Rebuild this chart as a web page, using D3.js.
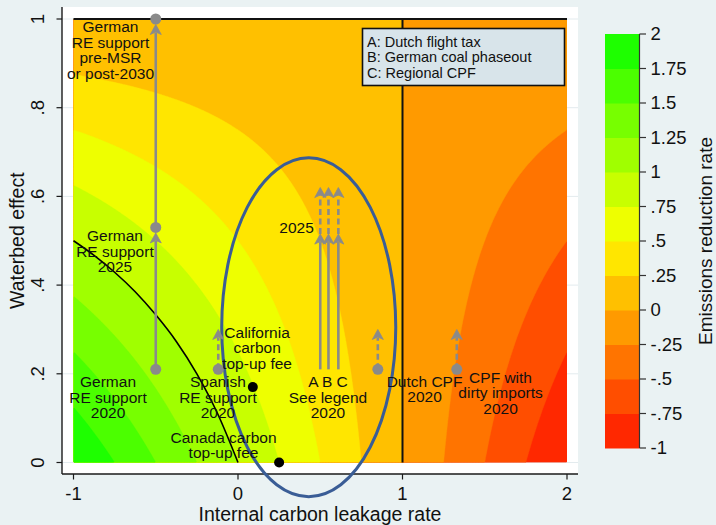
<!DOCTYPE html>
<html>
<head>
<meta charset="utf-8">
<script src="https://cdn.jsdelivr.net/npm/d3@7"></script>
<style>
  html, body { margin: 0; padding: 0; background: #EAF2F3; }
  svg { display: block; font-family: "Liberation Sans", Arial, sans-serif; }
</style>
</head>
<body>
<svg id="chart" width="716" height="525"></svg>
<script>
// ---- Emissions reduction rate on a (leakage, waterbed) grid ----
const leakageGrid = [-1, -0.5, 0, 0.5, 1, 1.5, 2];
const waterbedGrid = [0, 0.25, 0.5, 0.75, 1];
const reductionGrid = [
  [2, 1.5, 1, 0.5, 0, -0.5, -1],
  [1.5, 1.125, 0.75, 0.375, 0, -0.375, -0.75],
  [1, 0.75, 0.5, 0.25, 0, -0.25, -0.5],
  [0.5, 0.375, 0.25, 0.125, 0, -0.125, -0.25],
  [0, 0, 0, 0, 0, 0, 0]
];

// Contour levels (lower bound of each band) and band colours
const reductionLevels = [-1, -0.75, -0.5, -0.25, 0, 0.25, 0.5, 0.75, 1, 1.25, 1.5, 1.75];
const levelColors = ["#FF2800", "#FF4E00", "#FF7400", "#FF9A00", "#FFC000", "#FFE600",
                     "#EEFF00", "#C8FF00", "#A0FF00", "#77FF00", "#4BFF00", "#1EFF00"];

// Tick values and labels
const reductionTicks = [-1, -0.75, -0.5, -0.25, 0, 0.25, 0.5, 0.75, 1, 1.25, 1.5, 1.75, 2];
const reductionTickLabels = ["-1", "-.75", "-.5", "-.25", "0", ".25", ".5", ".75", "1", "1.25", "1.5", "1.75", "2"];
const leakageTicks = [-1, 0, 1, 2];
const leakageTickLabels = ["-1", "0", "1", "2"];
const waterbedTicks = [0, 0.2, 0.4, 0.6, 0.8, 1];
const waterbedTickLabels = ["0", ".2", ".4", ".6", ".8", "1"];

// Boundary where the reduction rate equals 1
const unitLeakage = [-1, -0.875, -0.75, -0.625, -0.5, -0.375, -0.25, -0.125, 0];
const unitWaterbed = [0.5, 0.467, 0.429, 0.385, 0.333, 0.273, 0.2, 0.111, 0];

// Policies shown as grey markers
const policyLeakage = [-0.5, -0.5, -0.5, -0.12, 0.85, 1.33];
const policyWaterbed = [0.21, 0.53, 1.0, 0.21, 0.21, 0.21];

// Top-up fees shown as black markers
const feeLeakage = [0.09, 0.25];
const feeWaterbed = [0.17, 0];

// Shifts of the waterbed effect over time (vertical arrows)
const shiftLeakage = [-0.5, -0.5, 0.50, 0.55, 0.61, 0.50, 0.55, 0.61, -0.12, 0.85, 1.33];
const shiftFrom    = [0.21, 0.53, 0.21, 0.21, 0.21, 0.515, 0.515, 0.515, 0.21, 0.21, 0.21];
const shiftTo      = [0.53, 1.0, 0.515, 0.515, 0.515, 0.62, 0.62, 0.62, 0.30, 0.30, 0.30];
const shiftProjected = [false, false, false, false, false, true, true, true, true, true, true];

const legendLines = ["A: Dutch flight tax", "B: German coal phaseout", "C: Regional CPF"];

// ---- Layout ----
const svg = d3.select("#chart");
const W = 716, H = 525;
const plotBox = { left: 62, right: 578, top: 7, bottom: 474 };
const x = d3.scaleLinear().domain([-1, 2]).range([73.5, 567]);
const y = d3.scaleLinear().domain([0, 1]).range([462.5, 19]);
const gray = "#8A8A8A";
const annFont = 15.5, tickFont = 18.5, titleFont = 19.5;

svg.append("rect").attr("width", W).attr("height", H).attr("fill", "#EAF2F3");
svg.append("rect")
  .attr("x", plotBox.left).attr("y", plotBox.top)
  .attr("width", plotBox.right - plotBox.left).attr("height", plotBox.bottom - plotBox.top)
  .attr("fill", "#fff");

// horizontal grid lines
svg.append("g").selectAll("line").data(waterbedTicks).join("line")
  .attr("x1", plotBox.left).attr("x2", plotBox.right)
  .attr("y1", d => y(d)).attr("y2", d => y(d))
  .attr("stroke", "#E3EBEE").attr("stroke-width", 1);

// ---- Filled contours ----
function reductionAt(lx, wb) {
  const i = Math.min(leakageGrid.length - 2, Math.max(0, d3.bisectRight(leakageGrid, lx) - 1));
  const j = Math.min(waterbedGrid.length - 2, Math.max(0, d3.bisectRight(waterbedGrid, wb) - 1));
  const tx = (lx - leakageGrid[i]) / (leakageGrid[i + 1] - leakageGrid[i]);
  const ty = (wb - waterbedGrid[j]) / (waterbedGrid[j + 1] - waterbedGrid[j]);
  const z00 = reductionGrid[j][i], z10 = reductionGrid[j][i + 1];
  const z01 = reductionGrid[j + 1][i], z11 = reductionGrid[j + 1][i + 1];
  return (1 - ty) * ((1 - tx) * z00 + tx * z10) + ty * ((1 - tx) * z01 + tx * z11);
}

const nx = 330, ny = 300;
const [lx0, lx1] = x.domain(), [wb0, wb1] = y.domain();
const field = new Float64Array(nx * ny);
for (let j = 0; j < ny; j++) {
  for (let i = 0; i < nx; i++) {
    field[j * nx + i] = reductionAt(lx0 + (i + 0.5) / nx * (lx1 - lx0), wb0 + (j + 0.5) / ny * (wb1 - wb0));
  }
}
const bands = d3.contours().size([nx, ny]).thresholds(reductionLevels)(field);
const gridToScreen = d3.geoTransform({
  point: function (gx, gy) {
    this.stream.point(x(lx0 + gx / nx * (lx1 - lx0)), y(wb0 + gy / ny * (wb1 - wb0)));
  }
});
const contourPath = d3.geoPath(gridToScreen);

svg.append("clipPath").attr("id", "field-clip").append("rect")
  .attr("x", x(lx0)).attr("y", y(wb1))
  .attr("width", x(lx1) - x(lx0)).attr("height", y(wb0) - y(wb1));

svg.append("g").attr("clip-path", "url(#field-clip)")
  .selectAll("path").data(bands).join("path")
  .attr("d", contourPath)
  .attr("fill", (d, k) => levelColors[k])
  .attr("stroke", (d, k) => levelColors[k])
  .attr("stroke-width", 0.4);

// zero-reduction lines: full waterbed and unit leakage
svg.append("line")
  .attr("x1", x(lx0)).attr("x2", x(lx1)).attr("y1", y(1)).attr("y2", y(1))
  .attr("stroke", "#111").attr("stroke-width", 2);
svg.append("line")
  .attr("x1", x(1)).attr("x2", x(1)).attr("y1", y(1)).attr("y2", y(0))
  .attr("stroke", "#111").attr("stroke-width", 2);

// unit-reduction curve
svg.append("path")
  .datum(unitLeakage.map((v, k) => [v, unitWaterbed[k]]))
  .attr("d", d3.line().x(d => x(d[0])).y(d => y(d[1])).curve(d3.curveMonotoneX))
  .attr("fill", "none").attr("stroke", "#000").attr("stroke-width", 1.6);

// ---- Axes ----
const axisColor = "#1a1a1a";
svg.append("line")
  .attr("x1", plotBox.left).attr("x2", plotBox.left).attr("y1", plotBox.top).attr("y2", plotBox.bottom)
  .attr("stroke", axisColor).attr("stroke-width", 1.4);
svg.append("line")
  .attr("x1", plotBox.left).attr("x2", plotBox.right).attr("y1", plotBox.bottom).attr("y2", plotBox.bottom)
  .attr("stroke", axisColor).attr("stroke-width", 1.4);

const yTicks = svg.append("g");
yTicks.selectAll("line").data(waterbedTicks).join("line")
  .attr("x1", plotBox.left - 5.5).attr("x2", plotBox.left)
  .attr("y1", d => y(d)).attr("y2", d => y(d))
  .attr("stroke", axisColor).attr("stroke-width", 1.2);
yTicks.selectAll("text").data(waterbedTicks).join("text")
  .attr("transform", d => `translate(38,${y(d)}) rotate(-90)`)
  .attr("text-anchor", "middle").attr("dy", "0.35em")
  .attr("font-size", tickFont).attr("fill", "#111")
  .text((d, k) => waterbedTickLabels[k]);

const xTicks = svg.append("g");
xTicks.selectAll("line").data(leakageTicks).join("line")
  .attr("x1", d => x(d)).attr("x2", d => x(d))
  .attr("y1", plotBox.bottom).attr("y2", plotBox.bottom + 5.5)
  .attr("stroke", axisColor).attr("stroke-width", 1.2);
xTicks.selectAll("text").data(leakageTicks).join("text")
  .attr("x", d => x(d)).attr("y", 500)
  .attr("text-anchor", "middle").attr("font-size", tickFont).attr("fill", "#111")
  .text((d, k) => leakageTickLabels[k]);

svg.append("text")
  .attr("x", (plotBox.left + plotBox.right) / 2).attr("y", 521)
  .attr("text-anchor", "middle").attr("font-size", titleFont).attr("fill", "#111")
  .text("Internal carbon leakage rate");
svg.append("text")
  .attr("transform", `translate(17,${(y(0) + y(1)) / 2}) rotate(-90)`)
  .attr("text-anchor", "middle").attr("dy", "0.35em")
  .attr("font-size", titleFont).attr("fill", "#111")
  .text("Waterbed effect");

// ---- Highlight ellipse around the 2020 policies ----
const ellipseCenter = [0.43, 0.305], ellipseRadii = [0.529, 0.382];
svg.append("ellipse")
  .attr("cx", x(ellipseCenter[0])).attr("cy", y(ellipseCenter[1]))
  .attr("rx", x(ellipseCenter[0] + ellipseRadii[0]) - x(ellipseCenter[0]))
  .attr("ry", y(0) - y(ellipseRadii[1]))
  .attr("fill", "none").attr("stroke", "#3A5D96").attr("stroke-width", 3);

// ---- Shift arrows ----
const markerR = 5.5;
const arrowG = svg.append("g");
shiftLeakage.forEach((lv, k) => {
  const px = x(lv);
  const endsOnMarker = policyLeakage.some((pl, m) => pl === lv && policyWaterbed[m] === shiftTo[k]);
  const tipY = y(shiftTo[k]) + (endsOnMarker ? markerR : 0);
  arrowG.append("line")
    .attr("x1", px).attr("x2", px)
    .attr("y1", y(shiftFrom[k])).attr("y2", tipY + 8)
    .attr("stroke", gray).attr("stroke-width", 2.6)
    .attr("stroke-dasharray", shiftProjected[k] ? "6,3.5" : null);
  arrowG.append("path")
    .attr("d", `M${px},${tipY} L${px - 5.5},${tipY + 10} L${px},${tipY + 7.5} L${px + 5.5},${tipY + 10} Z`)
    .attr("fill", gray).attr("stroke", gray).attr("stroke-width", 0.8).attr("stroke-linejoin", "round");
});

// markers
svg.append("g").selectAll("circle").data(policyLeakage).join("circle")
  .attr("cx", d => x(d)).attr("cy", (d, k) => y(policyWaterbed[k]))
  .attr("r", markerR).attr("fill", gray);
svg.append("g").selectAll("circle").data(feeLeakage).join("circle")
  .attr("cx", d => x(d)).attr("cy", (d, k) => y(feeWaterbed[k]))
  .attr("r", 5).attr("fill", "#000");

// ---- Text annotations (anchor = centre of first baseline, in data units) ----
const annotations = [
  { at: [-0.775, 0.970], lines: ["German", "RE support", "pre-MSR", "or post-2030"] },
  { at: [-0.748, 0.499], lines: ["German", "RE support", "2025"] },
  { at: [-0.790, 0.170], lines: ["German", "RE support", "2020"] },
  { at: [-0.122, 0.170], lines: ["Spanish", "RE support", "2020"] },
  { at: [0.116, 0.281], lines: ["California", "carbon", "top-up fee"] },
  { at: [-0.088, 0.044], lines: ["Canada carbon", "top-up fee"] },
  { at: [0.356, 0.517], lines: ["2025"] },
  { at: [0.547, 0.170], lines: ["A B C", "See legend", "2020"] },
  { at: [1.134, 0.171], lines: ["Dutch CPF", "2020"] },
  { at: [1.596, 0.180], lines: ["CPF with", "dirty imports", "2020"] }
];
const annG = svg.append("g").attr("font-size", annFont).attr("fill", "#111").attr("text-anchor", "middle");
annotations.forEach(a => {
  const t = annG.append("text").attr("x", x(a.at[0])).attr("y", y(a.at[1]));
  a.lines.forEach((ln, k) => {
    t.append("tspan").attr("x", x(a.at[0])).attr("dy", k === 0 ? 0 : 15.5).text(ln);
  });
});

// ---- Legend box ----
const legend = svg.append("g");
legend.append("rect")
  .attr("x", 362.5).attr("y", 28.5).attr("width", 202).attr("height", 57)
  .attr("fill", "#D8E4EA").attr("stroke", "#111").attr("stroke-width", 1.6);
legend.selectAll("text").data(legendLines).join("text")
  .attr("x", 367).attr("y", (d, k) => 46.5 + k * 15.5)
  .attr("font-size", 14.5).attr("fill", "#111")
  .text(d => d);

// ---- Colour bar ----
const cb = d3.scaleLinear().domain([-1, 2]).range([448, 34]);
const cbar = svg.append("g");
cbar.selectAll("rect").data(reductionLevels).join("rect")
  .attr("x", 605).attr("width", 34.5)
  .attr("y", d => cb(d + 0.25)).attr("height", d => cb(d) - cb(d + 0.25) + 0.5)
  .attr("fill", (d, k) => levelColors[k]);
cbar.append("line")
  .attr("x1", 639.5).attr("x2", 639.5).attr("y1", cb(2)).attr("y2", cb(-1))
  .attr("stroke", "#333").attr("stroke-width", 1.2);
cbar.selectAll(".tk").data(reductionTicks).join("line").attr("class", "tk")
  .attr("x1", 639.5).attr("x2", 646).attr("y1", d => cb(d)).attr("y2", d => cb(d))
  .attr("stroke", "#333").attr("stroke-width", 1.2);
cbar.selectAll("text").data(reductionTicks).join("text")
  .attr("x", 650.5).attr("y", d => cb(d)).attr("dy", "0.35em")
  .attr("font-size", tickFont).attr("fill", "#111")
  .text((d, k) => reductionTickLabels[k]);
svg.append("text")
  .attr("transform", `translate(705,${(cb(-1) + cb(2)) / 2}) rotate(-90)`)
  .attr("text-anchor", "middle").attr("dy", "0.35em")
  .attr("font-size", 19).attr("fill", "#111")
  .text("Emissions reduction rate");
</script>
</body>
</html>
